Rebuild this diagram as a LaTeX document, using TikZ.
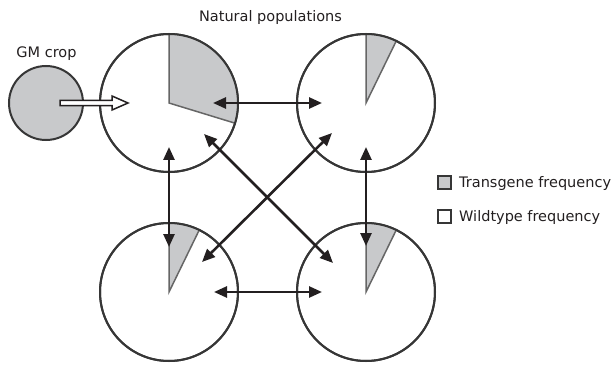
\documentclass[tikz,border=0pt]{standalone}
\usepackage{fontspec}
\setmainfont{DejaVu Sans}
\usetikzlibrary{arrows.meta,calc}
\definecolor{pieg}{HTML}{C8C9CB}
\definecolor{rim}{HTML}{363636}
\definecolor{wedgec}{HTML}{666666}
\definecolor{arr}{HTML}{231F20}
\begin{document}
\begin{tikzpicture}[x=1pt,y=1pt,
  pop/.style={circle,draw=rim,line width=2pt,minimum size=138pt,inner sep=0pt,outer sep=0pt,fill=white},
  link/.style={draw=arr,line width=2.6pt,{Triangle[length=13pt,width=11pt]}-{Triangle[length=13pt,width=11pt]}},
  lbl/.style={font=\fontsize{14.5}{17}\selectfont,text=arr,inner sep=0pt},
  key/.style={draw=rim,line width=2pt,minimum size=13pt,inner sep=0pt},
  wedgeline/.style={draw=wedgec,line width=1.5pt}]
\useasboundingbox (0,0) rectangle (614,365);
% populations
\node[pop] (tl) at (169,262) {};
\node[pop] (tr) at (366,262) {};
\node[pop] (bl) at (169,73) {};
\node[pop] (br) at (366,73) {};
\node[circle,draw=rim,line width=2pt,minimum size=74pt,inner sep=0pt,fill=pieg] (gm) at (46,262) {};
% wedges
\fill[pieg] (tl.center) -- ++(90:68.3) arc[start angle=90,end angle=-17,radius=68.3] -- cycle;
\draw[wedgeline] ($(tl.center)+(90:68.5)$) -- (tl.center) -- ($(tl.center)+(-17:68.5)$);
\foreach \n in {tr,bl,br}{
  \fill[pieg] (\n.center) -- ++(90:68.3) arc[start angle=90,end angle=64,radius=68.3] -- cycle;
  \draw[wedgeline] ($(\n.center)+(90:68.5)$) -- (\n.center) -- ($(\n.center)+(64:68.5)$);
}
% redraw rims over wedges
\foreach \n in {tl,tr,bl,br}{
  \draw[rim,line width=2pt] (\n.center) circle[radius=69];
}
% labels
\node[lbl,anchor=base] (title) at (270.5,343) {Natural populations};
\node[lbl,anchor=base] (gmlbl) at (46.5,307) {GM crop};
% GM open arrow
\draw[draw=arr,fill=white,line width=1.5pt,line join=miter]
  ($(gm.center)+(14,2.6)$) -- ($(gm.center)+(66,2.6)$) -- ($(gm.center)+(66,7)$) --
  ($(gm.center)+(82,0)$) -- ($(gm.center)+(66,-7)$) -- ($(gm.center)+(66,-2.6)$) --
  ($(gm.center)+(14,-2.6)$) -- cycle;
% links
\draw[link] ($(tl.center)+(44,0)$) -- ($(tr.center)+(-44,0)$);
\draw[link] ($(bl.center)+(45,0)$) -- ($(br.center)+(-44,0)$);
\draw[link] ($(tl.center)+(0,-44)$) -- ($(bl.center)+(0,45)$);
\draw[link] ($(tr.center)+(0,-44)$) -- ($(br.center)+(0,46)$);
\draw[link] ($(tl.center)+(35,-31)$) -- ($(br.center)+(-33,29)$);
\draw[link] ($(tr.center)+(-34,-30)$) -- ($(bl.center)+(33,30)$);
% legend
\node[key,fill=pieg] (k1) at (444.5,183) {};
\node[key,fill=white] (k2) at (444.5,149) {};
\node[lbl,anchor=base west] (t1) at (459,178) {Transgene frequency};
\node[lbl,anchor=base west] (t2) at (459,143) {Wildtype frequency};
\end{tikzpicture}
\end{document}
